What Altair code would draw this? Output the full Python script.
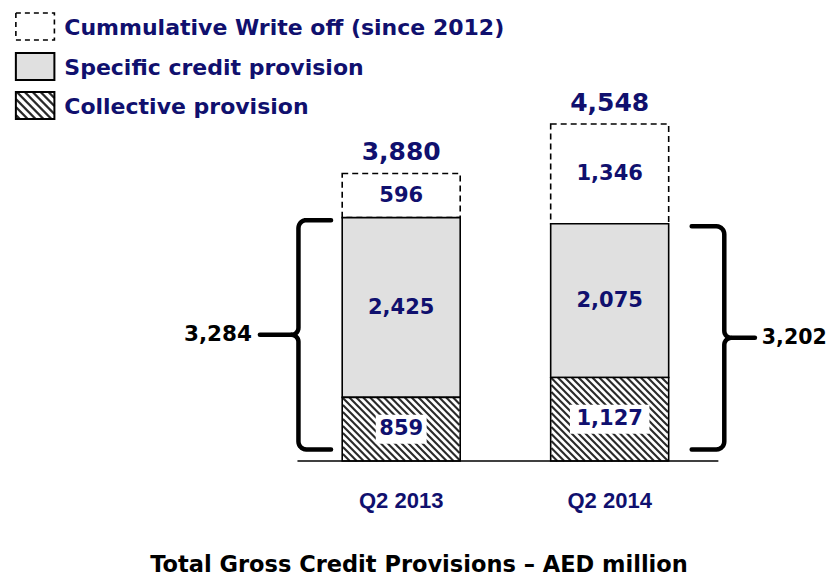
import altair as alt
import numpy as np
import pandas as pd

# ---------------- data ----------------
categories = ["Q2 2013", "Q2 2014"]
collective = [859, 1127]
specific = [2425, 2075]
write_off = [596, 1346]
totals = [3880, 4548]
subtotals = [3284, 3202]
series_names = ["Cummulative Write off (since 2012)", "Specific credit provision", "Collective provision"]
chart_title = "Total Gross Credit Provisions \u2013 AED million"

# ---------------- layout ----------------
W, H = 836, 578
X0PX, STEP = 401.0, 211.0      # pixel of first category, pixel step between categories
BASE = 461.0                   # pixel row of value 0
K = 0.0741                     # pixels per AED million
BAR_W = 118
NAVY = "#10106e"
FONT = "DejaVu Sans"


def xd(px):
    return (px - X0PX) / STEP


def yd(py):
    return (BASE - py) / K


def xpx(x):
    return X0PX + x * STEP


def ypx(v):
    return BASE - v * K


xs = alt.Scale(domain=[xd(0), xd(W)], range=[0, W], nice=False, zero=False)
ys = alt.Scale(domain=[yd(H), yd(0)], range=[H, 0], nice=False, zero=False)


def X(f):
    return alt.X(f, type="quantitative", scale=xs, axis=None)


def Y(f):
    return alt.Y(f, type="quantitative", scale=ys, axis=None)


# ---------------- segments ----------------
rows = []
for i in range(len(categories)):
    c, s, w = collective[i], specific[i], write_off[i]
    rows.append(dict(idx=i, series="collective", y0=0, y1=c, label=f"{c:,}"))
    rows.append(dict(idx=i, series="specific", y0=c, y1=c + s, label=f"{s:,}"))
    rows.append(dict(idx=i, series="writeoff", y0=c + s, y1=c + s + w, label=f"{w:,}"))
seg = pd.DataFrame(rows)
seg["mid"] = (seg["y0"] + seg["y1"]) / 2


def hatch_lines(x0, x1, y0, y1, period):
    """diagonal '\\' lines clipped to a pixel rectangle (y0 top, y1 bottom)"""
    out = []
    cmin, cmax = y0 - x1, y1 - x0
    c = np.ceil(cmin / period) * period
    while c < cmax:
        xa = max(x0, y0 - c)
        xb = min(x1, y1 - c)
        if xb - xa > 0.3:
            out.append(dict(x=xd(xa), y=yd(xa + c), x2=xd(xb), y2=yd(xb + c)))
        c += period
    return out


wo = seg[seg["series"] == "writeoff"]
sp = seg[seg["series"] == "specific"]
co = seg[seg["series"] == "collective"].copy()

hatch = []
for i, y0, y1 in zip(co["idx"], co["y0"], co["y1"]):
    cx = xpx(i)
    hatch += hatch_lines(cx - BAR_W / 2, cx + BAR_W / 2, ypx(y1), ypx(y0), 7.0)
hatch_df = pd.DataFrame(hatch)

bar_enc = dict(x=X("idx"), y=Y("y0"), y2=alt.Y2("y1"))

l_writeoff = alt.Chart(wo).mark_bar(size=BAR_W, fill="white", stroke="black",
                                    strokeWidth=1.6, strokeDash=[6, 4]).encode(**bar_enc)
l_specific = alt.Chart(sp).mark_bar(size=BAR_W, fill="#e0e0e0", stroke="black",
                                    strokeWidth=1.6).encode(**bar_enc)
l_coll_fill = alt.Chart(co).mark_bar(size=BAR_W, fill="white", strokeWidth=0).encode(**bar_enc)
l_hatch = alt.Chart(hatch_df).mark_rule(color="#2a2a2a", strokeWidth=2.1).encode(
    x=X("x"), y=Y("y"), x2=alt.X2("x2"), y2=alt.Y2("y2"))
l_coll_out = alt.Chart(co).mark_bar(size=BAR_W, fillOpacity=0, stroke="black",
                                    strokeWidth=1.6).encode(**bar_enc)

# white boxes behind collective labels
co["bx0"] = [xd(xpx(i) - (14.5 * len(t) + 8) / 2) for i, t in zip(co["idx"], co["label"])]
co["bx1"] = [xd(xpx(i) + (14.5 * len(t) + 8) / 2) for i, t in zip(co["idx"], co["label"])]
co["by0"] = [yd(ypx(m) + 14.5) for m in co["mid"]]
co["by1"] = [yd(ypx(m) - 14.5) for m in co["mid"]]
l_boxes = alt.Chart(co).mark_rect(fill="white").encode(
    x=X("bx0"), x2=alt.X2("bx1"), y=Y("by0"), y2=alt.Y2("by1"))

l_values = alt.Chart(seg).mark_text(font=FONT, fontWeight="bold", fontSize=21, color=NAVY,
                                     baseline="middle", align="center").encode(
    x=X("idx"), y=Y("mid"), text="label:N")

tot_df = pd.DataFrame(dict(idx=range(len(categories)), total=totals,
                           label=[f"{t:,}" for t in totals]))
l_totals = alt.Chart(tot_df).mark_text(font=FONT, fontWeight="bold", fontSize=25, color=NAVY,
                                       baseline="middle", align="center", dy=-21).encode(
    x=X("idx"), y=Y("total"), text="label:N")

cat_df = pd.DataFrame(dict(idx=range(len(categories)), cat=categories, zero=0))
l_cats = alt.Chart(cat_df).mark_text(font="Liberation Sans", fontWeight="bold", fontSize=22,
                                     color=NAVY, baseline="middle", align="center", dy=40).encode(
    x=X("idx"), y=Y("zero"), text="cat:N")

axis_df = pd.DataFrame(dict(x=[xd(296)], x2=[xd(722)], y=[0]))
l_axis = alt.Chart(axis_df).mark_rule(color="black", strokeWidth=1.5).encode(
    x=X("x"), x2=alt.X2("x2"), y=Y("y"))

# ---------------- braces ----------------
# side, vertical offset from bar centre, hook offset, dash length, label gap
brace_specs = [(-1, 104, 71, 39, 47), (1, 116, 83, 31, 38)]
brace_pts, dash_rows, brace_lbl = [], [], []
r, tip = 8.0, 7.0
for i, (d, vo, ho, dl, lg) in enumerate(brace_specs):
    cx = xpx(i)
    V, Hk = cx + d * vo, cx + d * ho
    h = -d
    top = ypx(subtotals[i]) + 2.5
    bot = BASE - 11.5
    mid = (top + bot) / 2
    pts = [(Hk, top)]
    for t in np.linspace(0, np.pi / 2, 8):
        pts.append((V + h * r - h * r * np.sin(t), top + r - r * np.cos(t)))
    for t in np.linspace(0, np.pi / 2, 8):
        pts.append((V + d * tip - d * tip * np.cos(t), mid - tip + tip * np.sin(t)))
    for t in np.linspace(0, np.pi / 2, 8):
        pts.append((V + d * tip - d * tip * np.sin(t), mid + tip - tip * np.cos(t)))
    for t in np.linspace(0, np.pi / 2, 8):
        pts.append((V + h * r - h * r * np.cos(t), bot - r + r * np.sin(t)))
    pts.append((Hk, bot))
    for o, (px, py) in enumerate(pts):
        brace_pts.append(dict(part=f"b{i}", o=o, x=xd(px), y=yd(py)))
    dash_rows.append(dict(x=xd(V + d * tip), x2=xd(V + d * dl), y=yd(mid)))
    brace_lbl.append(dict(x=xd(V + d * lg), y=yd(mid), label=f"{subtotals[i]:,}",
                          side="right" if d < 0 else "left"))

l_brace = alt.Chart(pd.DataFrame(brace_pts)).mark_line(
    color="black", strokeWidth=4.5, strokeCap="round", strokeJoin="round").encode(
    x=X("x"), y=Y("y"), detail="part:N", order="o:Q")
l_dash = alt.Chart(pd.DataFrame(dash_rows)).mark_rule(color="black", strokeWidth=4.5,
                                                      strokeCap="round").encode(
    x=X("x"), x2=alt.X2("x2"), y=Y("y"))
bl = pd.DataFrame(brace_lbl)
l_blabel_l = alt.Chart(bl[bl["side"] == "right"]).mark_text(
    font=FONT, fontWeight="bold", fontSize=21.5, color="black", align="right", baseline="middle").encode(
    x=X("x"), y=Y("y"), text="label:N")
l_blabel_r = alt.Chart(bl[bl["side"] == "left"]).mark_text(
    font=FONT, fontWeight="bold", fontSize=20.5, color="black", align="left", baseline="middle").encode(
    x=X("x"), y=Y("y"), text="label:N")

# ---------------- legend ----------------
leg_rows = [(13, 40), (53, 80), (92, 119)]
LX0, LX1, LTX = 11, 50, 60
leg_box = pd.DataFrame([dict(k=k, x=xd(LX0), x2=xd(LX1), y=yd(b), y2=yd(t))
                        for k, (t, b) in enumerate(leg_rows)])
l_leg0 = alt.Chart(leg_box[leg_box["k"] == 0]).mark_rect(
    fill="white", stroke="black", strokeWidth=1.6, strokeDash=[5, 4]).encode(
    x=X("x"), x2=alt.X2("x2"), y=Y("y"), y2=alt.Y2("y2"))
l_leg1 = alt.Chart(leg_box[leg_box["k"] == 1]).mark_rect(
    fill="#e0e0e0", stroke="black", strokeWidth=2).encode(
    x=X("x"), x2=alt.X2("x2"), y=Y("y"), y2=alt.Y2("y2"))
l_leg2f = alt.Chart(leg_box[leg_box["k"] == 2]).mark_rect(fill="white").encode(
    x=X("x"), x2=alt.X2("x2"), y=Y("y"), y2=alt.Y2("y2"))
leg_hatch = pd.DataFrame(hatch_lines(LX0, LX1, leg_rows[2][0], leg_rows[2][1], 8.0))
l_leg2h = alt.Chart(leg_hatch).mark_rule(color="#2a2a2a", strokeWidth=2.4).encode(
    x=X("x"), y=Y("y"), x2=alt.X2("x2"), y2=alt.Y2("y2"))
l_leg2o = alt.Chart(leg_box[leg_box["k"] == 2]).mark_rect(
    fillOpacity=0, stroke="black", strokeWidth=2).encode(
    x=X("x"), x2=alt.X2("x2"), y=Y("y"), y2=alt.Y2("y2"))
leg_txt = pd.DataFrame([dict(x=xd(LTX), y=yd((t + b) / 2 + 1), label=n)
                        for n, (t, b) in zip(series_names, leg_rows)])
l_legtxt = alt.Chart(leg_txt).mark_text(font=FONT, fontWeight="bold", fontSize=22, color=NAVY,
                                        align="left", baseline="middle").encode(
    x=X("x"), y=Y("y"), text="label:N")

title_df = pd.DataFrame(dict(x=[xd(419)], y=[yd(565)], label=[chart_title]))
l_title = alt.Chart(title_df).mark_text(font=FONT, fontSize=22.5, fontWeight="bold", color="black",
                                        align="center", baseline="middle").encode(
    x=X("x"), y=Y("y"), text="label:N")

chart = alt.layer(
    l_writeoff, l_specific, l_coll_fill, l_hatch, l_coll_out, l_boxes, l_axis,
    l_values, l_totals, l_cats,
    l_brace, l_dash, l_blabel_l, l_blabel_r,
    l_leg0, l_leg1, l_leg2f, l_leg2h, l_leg2o, l_legtxt, l_title,
).properties(
    width=W, height=H, padding=0,
    autosize=alt.AutoSizeParams(type="none"),
    background="white",
).configure_view(stroke=None)

chart.save("out.html", embed_options={"renderer": "svg", "actions": False})
